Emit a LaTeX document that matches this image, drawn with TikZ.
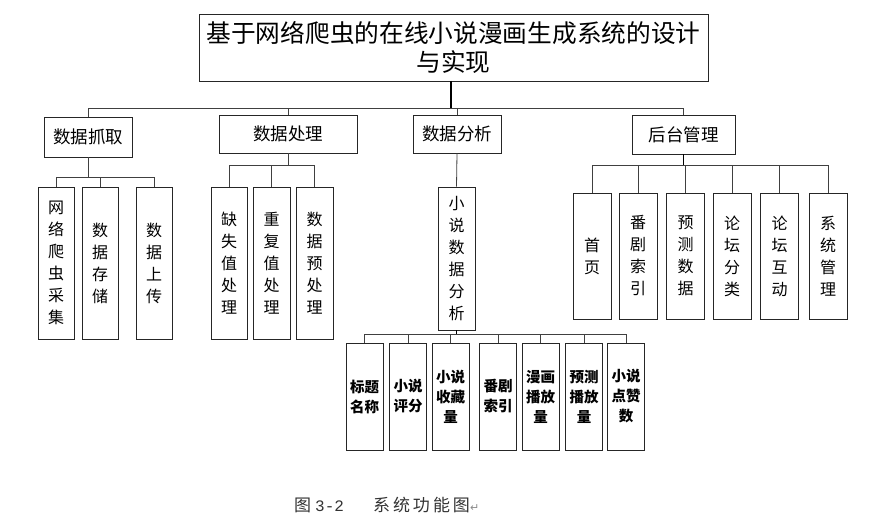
\documentclass[tikz,border=0pt]{standalone}
\usepackage{fontspec}
\newfontfamily\cjk{Noto Sans CJK SC}
\newfontfamily\dejavu{DejaVu Sans}
\newfontfamily\monof{Liberation Mono}
\tikzset{
  box/.style={draw=black!85, line width=0.8pt, inner sep=0pt, align=center, fill=white},
  titlebox/.style={box, font={\cjk\fontsize{24.7}{29.5}\selectfont}},
  lvone/.style={box, font={\cjk\fontsize{17.5}{20}\selectfont}},
  vbox/.style={box, font={\cjk\fontsize{16}{22}\selectfont}},
  bbox/.style={box, font={\cjk\bfseries\fontsize{14.5}{20}\selectfont}},
  conn/.style={draw=black!75, line width=0.8pt},
  trunk/.style={draw=black, line width=1.4pt}
}
\begin{document}
\begin{tikzpicture}[x=1pt,y=-1pt]
\useasboundingbox[fill=white] (0,0) rectangle (883,526);

% title
\node[titlebox, minimum width=509pt, minimum height=67pt] (title) at (453.5,47.5)
  {基于网络爬虫的在线小说漫画生成系统的设计\\与实现};

% level 1
\node[lvone, minimum width=88pt, minimum height=40pt] (a1) at (88,137) {数据抓取};
\node[lvone, minimum width=138pt, minimum height=38pt] (a2) at (288,134) {数据处理};
\node[lvone, minimum width=88pt, minimum height=38pt] (a3) at (457,134) {数据分析};
\node[lvone, minimum width=103pt, minimum height=39pt] (a4) at (683.5,134.5) {后台管理};

% level 2 : 数据抓取
\node[vbox, minimum width=36pt, minimum height=152pt] (b1) at (56,263) {网\\络\\爬\\虫\\采\\集};
\node[vbox, minimum width=36pt, minimum height=152pt] (b2) at (100,263) {数\\据\\存\\储};
\node[vbox, minimum width=36pt, minimum height=152pt] (b3) at (154,263) {数\\据\\上\\传};

% level 2 : 数据处理
\node[vbox, minimum width=36pt, minimum height=152pt] (c1) at (229,263) {缺\\失\\值\\处\\理};
\node[vbox, minimum width=37pt, minimum height=152pt] (c2) at (271.5,263) {重\\复\\值\\处\\理};
\node[vbox, minimum width=37pt, minimum height=152pt] (c3) at (314.5,263) {数\\据\\预\\处\\理};

% level 2 : 数据分析
\node[vbox, minimum width=37pt, minimum height=143pt] (d) at (456.5,258.5) {小\\说\\数\\据\\分\\析};

% level 2 : 后台管理
\node[vbox, minimum width=38pt, minimum height=126pt] (e1) at (592,256) {首\\页};
\node[vbox, minimum width=38pt, minimum height=126pt] (e2) at (638,256) {番\\剧\\索\\引};
\node[vbox, minimum width=38pt, minimum height=126pt] (e3) at (685.5,256) {预\\测\\数\\据};
\node[vbox, minimum width=38pt, minimum height=126pt] (e4) at (732,256) {论\\坛\\分\\类};
\node[vbox, minimum width=38pt, minimum height=126pt] (e5) at (779.5,256) {论\\坛\\互\\动};
\node[vbox, minimum width=38pt, minimum height=126pt] (e6) at (828,256) {系\\统\\管\\理};

% level 3
\node[bbox, minimum width=37pt, minimum height=107pt] (f1) at (364.5,396.5) {标题\\名称};
\node[bbox, minimum width=37pt, minimum height=107pt] (f2) at (408,396.5) {小说\\评分};
\node[bbox, minimum width=37pt, minimum height=107pt] (f3) at (450.5,396.5) {小说\\收藏\\量};
\node[bbox, minimum width=37pt, minimum height=107pt] (f4) at (498,396.5) {番剧\\索引};
\node[bbox, minimum width=37pt, minimum height=107pt] (f5) at (540.5,396.5) {漫画\\播放\\量};
\node[bbox, minimum width=37pt, minimum height=107pt] (f6) at (584,396.5) {预测\\播放\\量};
\node[bbox, minimum width=37pt, minimum height=107pt] (f7) at (626,396.5) {小说\\点赞\\数};

% bus levels
\coordinate (bus0) at (0,108);
\coordinate (busA) at (0,177);
\coordinate (busB) at (0,165);
\coordinate (busD) at (0,334);
\coordinate (tt) at (451,81);

% connectors: title -> level 1
\draw[trunk] (tt) -- (tt |- bus0);
\draw[conn] (a1.north) -- (a1.north |- bus0) -- (a4.north |- bus0) -- (a4.north);
\draw[conn] (a2.north) -- (a2.north |- bus0);
\draw[conn] (a3.north) -- (a3.north |- bus0);

% 数据抓取
\draw[conn] (a1.south) -- (a1.south |- busA);
\draw[conn] (b1.north) -- (b1.north |- busA) -- (b3.north |- busA) -- (b3.north);
\draw[conn] (b2.north) -- (b2.north |- busA);

% 数据处理
\draw[conn] (a2.south) -- (a2.south |- busB);
\draw[conn] (c1.north) -- (c1.north |- busB) -- (c3.north |- busB) -- (c3.north);
\draw[conn] (c2.north) -- (c2.north |- busB);

% 数据分析
\draw[conn] (a3.south) -- (d.north);

% 后台管理
\draw[trunk] (a4.south) -- (a4.south |- busB);
\draw[conn] (e1.north) -- (e1.north |- busB) -- (e6.north |- busB) -- (e6.north);
\foreach \n in {e2,e3,e4,e5} \draw[conn] (\n.north) -- (\n.north |- busB);

% 小说数据分析
\draw[trunk] (d.south) -- (d.south |- busD);
\draw[conn] (f1.north) -- (f1.north |- busD) -- (f7.north |- busD) -- (f7.north);
\foreach \n in {f2,f3,f4,f5,f6} \draw[conn] (\n.north) -- (\n.north |- busD);

% caption
\node[anchor=west, inner sep=0pt, font={\cjk\fontsize{17}{17}\selectfont}, text=black!80] (cap) at (294,505)
  {图\hspace{4pt}{\monof\fontsize{16}{16}\selectfont 3-2}\hspace{29pt}系\hspace{3pt}统\hspace{3pt}功\hspace{3pt}能\hspace{3pt}图{\dejavu\fontsize{11}{11}\selectfont\color{black!45}↵}};
\end{tikzpicture}
\end{document}
